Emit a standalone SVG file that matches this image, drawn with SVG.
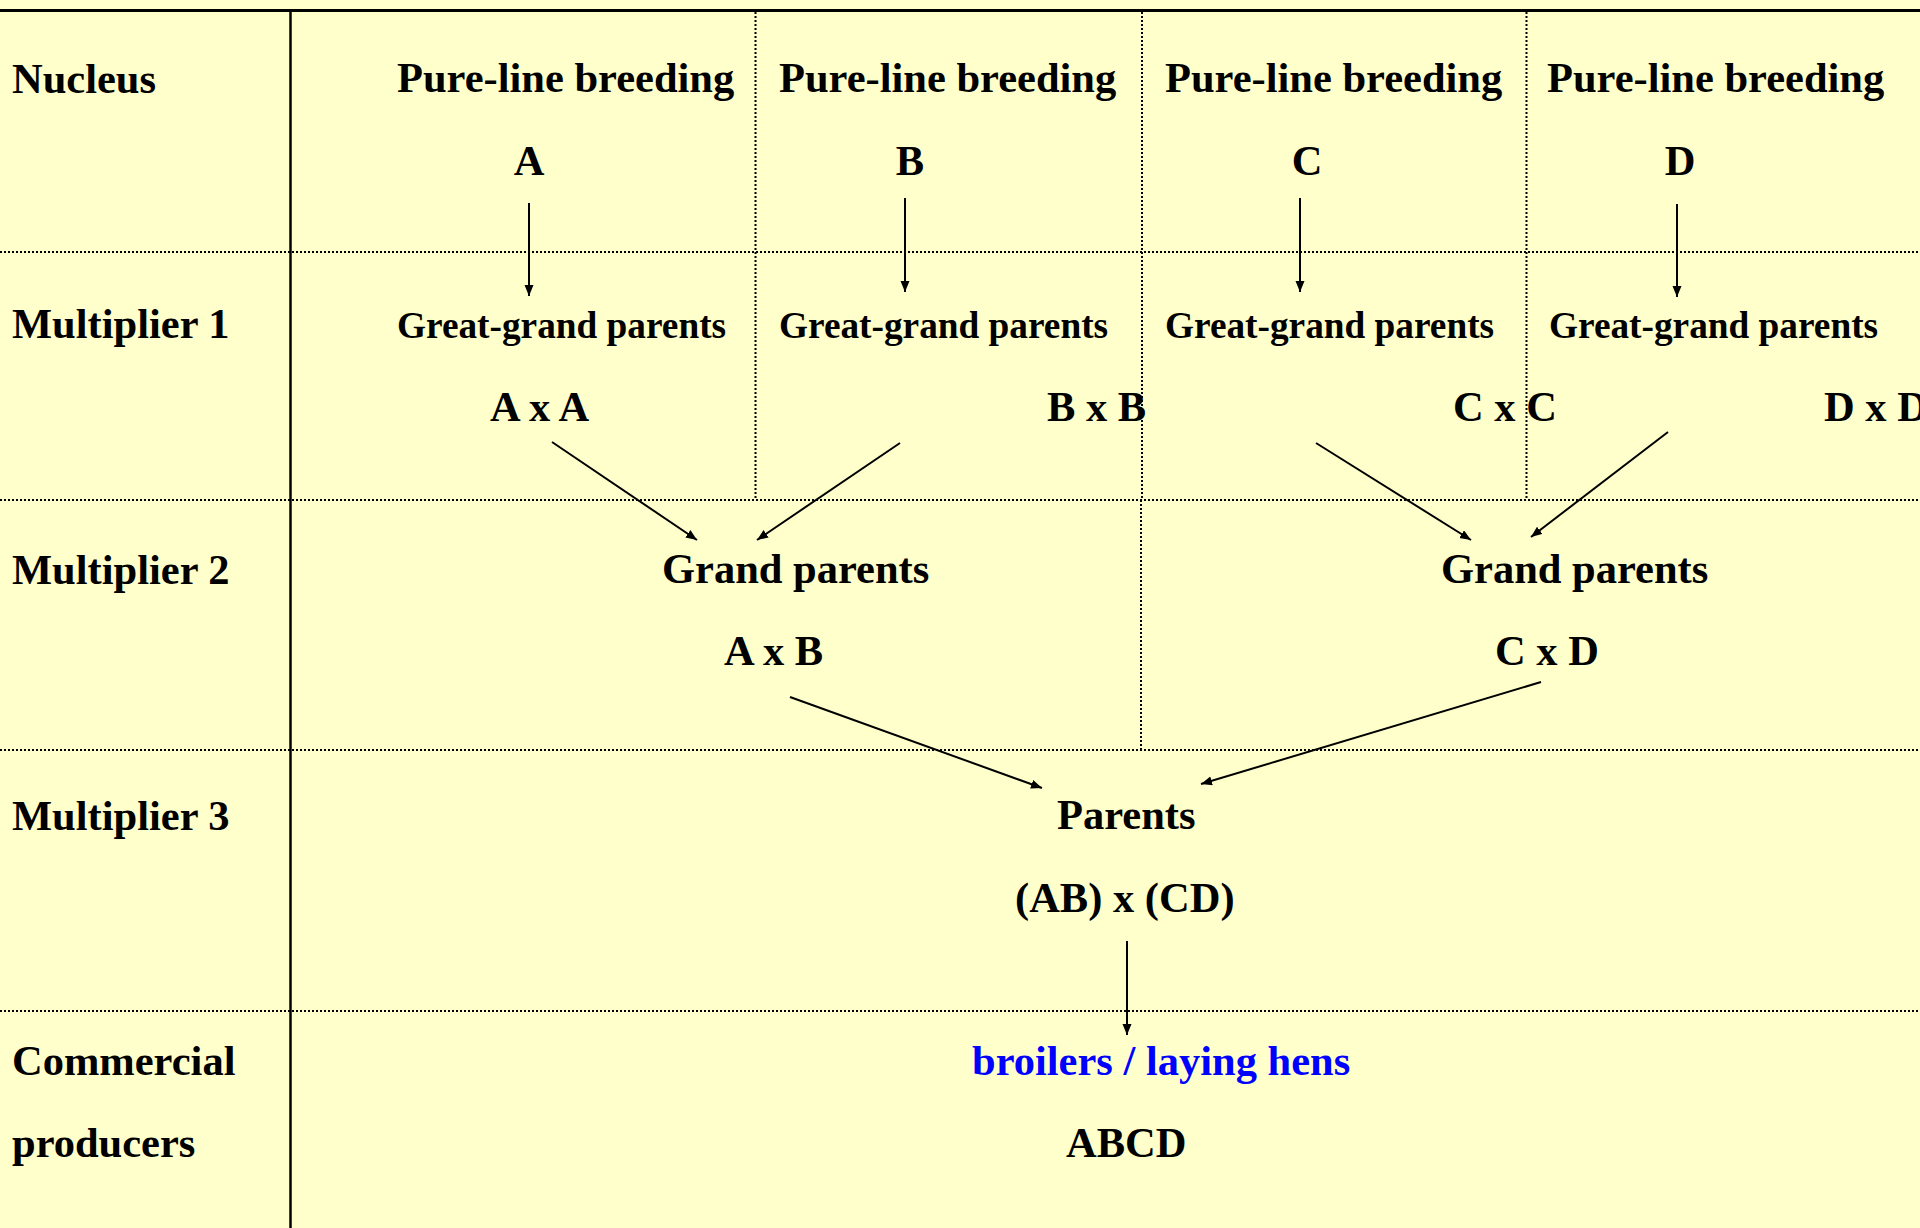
<svg xmlns="http://www.w3.org/2000/svg" width="1920" height="1228" viewBox="0 0 1920 1228">
<style>
.t{font-family:"Liberation Serif","Times New Roman",serif;font-weight:bold;font-size:42.5px;fill:#000}
.s{font-size:37.3px}
.blue{fill:#0000FF}
.solid{stroke:#000;fill:none}
.dot{stroke:#000;stroke-width:2;stroke-dasharray:2 2;fill:none}
.arr{stroke:#000;stroke-width:2;fill:none;marker-end:url(#ah)}
</style>
<defs>
<marker id="ah" markerUnits="userSpaceOnUse" markerWidth="12" markerHeight="10" refX="11" refY="4.5" orient="auto">
<path d="M0,0 L11,4.5 L0,9 z" fill="#000"/>
</marker>
</defs>
<rect x="0" y="0" width="1920" height="1228" fill="#FFFFCC"/>
<g id="grid">
<line class="solid" x1="0" y1="10.5" x2="1920" y2="10.5" stroke-width="3"/>
<line class="solid" x1="290.5" y1="10" x2="290.5" y2="1228" stroke-width="2.5"/>
<line class="dot" x1="0" y1="252" x2="1920" y2="252"/>
<line class="dot" x1="0" y1="500" x2="1920" y2="500"/>
<line class="dot" x1="0" y1="750" x2="1920" y2="750"/>
<line class="dot" x1="0" y1="1011" x2="1920" y2="1011"/>
<line class="dot" x1="755.5" y1="12" x2="755.5" y2="500"/>
<line class="dot" x1="1142" y1="12" x2="1142" y2="500"/>
<line class="dot" x1="1141" y1="500" x2="1141" y2="750"/>
<line class="dot" x1="1526.5" y1="12" x2="1526.5" y2="500"/>
</g>
<g id="row-labels">
<text class="t" x="12" y="93">Nucleus</text>
<text class="t" x="12" y="338">Multiplier 1</text>
<text class="t" x="12" y="584">Multiplier 2</text>
<text class="t" x="12" y="830">Multiplier 3</text>
<text class="t" x="12" y="1075">Commercial</text>
<text class="t" x="12" y="1157">producers</text>
</g>
<g id="nucleus-A">
<text class="t" x="397" y="92">Pure-line breeding</text>
<text class="t" x="529" y="175" text-anchor="middle">A</text>
</g>
<g id="nucleus-B">
<text class="t" x="779" y="92">Pure-line breeding</text>
<text class="t" x="910" y="175" text-anchor="middle">B</text>
</g>
<g id="nucleus-C">
<text class="t" x="1165" y="92">Pure-line breeding</text>
<text class="t" x="1307" y="175" text-anchor="middle">C</text>
</g>
<g id="nucleus-D">
<text class="t" x="1547" y="92">Pure-line breeding</text>
<text class="t" x="1680" y="175" text-anchor="middle">D</text>
</g>
<g id="ggp-A">
<text class="t s" x="397" y="338">Great-grand parents</text>
<text class="t" x="490" y="421">A x A</text>
</g>
<g id="ggp-B">
<text class="t s" x="779" y="338">Great-grand parents</text>
<text class="t" x="1047" y="421">B x B</text>
</g>
<g id="ggp-C">
<text class="t s" x="1165" y="338">Great-grand parents</text>
<text class="t" x="1453" y="421">C x C</text>
</g>
<g id="ggp-D">
<text class="t s" x="1549" y="338">Great-grand parents</text>
<text class="t" x="1824" y="421">D x D</text>
</g>
<g id="gp-AB">
<text class="t" x="662" y="583">Grand parents</text>
<text class="t" x="724" y="665">A x B</text>
</g>
<g id="gp-CD">
<text class="t" x="1441" y="583">Grand parents</text>
<text class="t" x="1495" y="665">C x D</text>
</g>
<g id="parents">
<text class="t" x="1057" y="829">Parents</text>
<text class="t" x="1015" y="912">(AB) x (CD)</text>
</g>
<g id="commercial">
<text class="t blue" x="972" y="1075">broilers / laying hens</text>
<text class="t" x="1066" y="1157">ABCD</text>
</g>
<g id="connectors">
<line class="arr" x1="529" y1="203" x2="529" y2="296"/>
<line class="arr" x1="905" y1="198" x2="905" y2="292"/>
<line class="arr" x1="1300" y1="198" x2="1300" y2="292"/>
<line class="arr" x1="1677" y1="204" x2="1677" y2="297"/>
<line class="arr" x1="552" y1="442" x2="697" y2="540"/>
<line class="arr" x1="900" y1="443" x2="757" y2="540"/>
<line class="arr" x1="1316" y1="443" x2="1471" y2="540"/>
<line class="arr" x1="1668" y1="432" x2="1531" y2="537"/>
<line class="arr" x1="790" y1="697" x2="1042" y2="788"/>
<line class="arr" x1="1541" y1="682" x2="1201" y2="784"/>
<line class="arr" x1="1127" y1="941" x2="1127" y2="1035"/>
</g>
</svg>
